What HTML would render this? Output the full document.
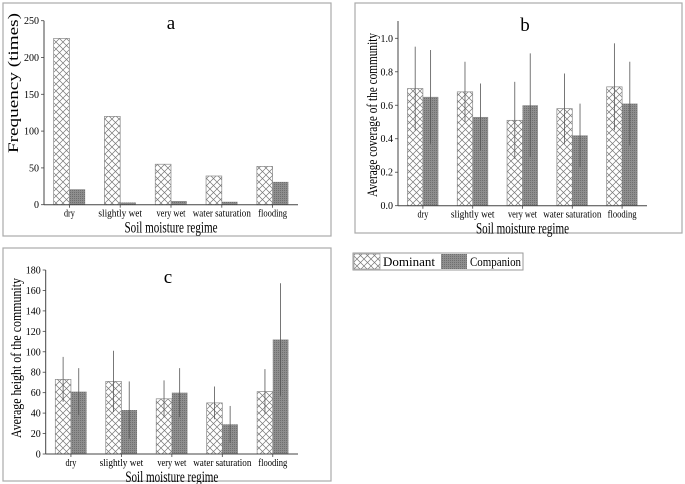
<!DOCTYPE html>
<html><head><meta charset="utf-8"><style>
body{margin:0;background:#fff}
svg{display:block}
text{font-family:"Liberation Serif","DejaVu Serif",serif}
</style></head><body>
<svg id="s" width="685" height="484" viewBox="0 0 685 484" xmlns="http://www.w3.org/2000/svg" font-family="Liberation Serif, serif">
<defs>
<pattern id="hatch" width="7" height="7" patternUnits="userSpaceOnUse">
<rect width="7" height="7" fill="#fff"/>
<path d="M0,0L7,7M7,0L0,7" stroke="#777" stroke-width="0.7"/>
</pattern>
<pattern id="dots" width="2" height="2" patternUnits="userSpaceOnUse">
<rect width="2" height="2" fill="#8e8e8e"/><rect width="1" height="1" fill="#6f6f6f"/>
</pattern>
</defs>
<g id="pa"></g>
<g id="pb"></g>
<g id="pc"></g>
<g>
<rect x="353" y="253" width="170" height="17" fill="#fff" stroke="#999"/>
<rect x="354" y="254" width="26" height="15" fill="url(#hatch)" stroke="#888" stroke-width="0.6"/>
<text x="383" y="266" font-size="13" textLength="52" lengthAdjust="spacingAndGlyphs">Dominant</text>
<rect x="441" y="254" width="26" height="15" fill="url(#dots)"/>
<text x="470" y="266" font-size="13" textLength="51" lengthAdjust="spacingAndGlyphs">Companion</text>
</g>
</svg>
<script>
const categories = ["dry","slightly wet","very wet","water saturation","flooding"];
const freqDominant = [226,120,55,39,52];
const freqCompanion = [21,3,5,4,31];
const freqTicks = [0,50,100,150,200,250];
const covDominant = [0.70,0.68,0.51,0.58,0.71];
const covDominantErr = [0.25,0.18,0.23,0.21,0.26];
const covCompanion = [0.65,0.53,0.60,0.42,0.61];
const covCompanionErr = [0.28,0.20,0.31,0.19,0.25];
const covTicks = ["0.0","0.2","0.4","0.6","0.8","1.0"];
const hDominant = [73,71,54,50,61];
const hDominantErr = [22,30,18,16,22];
const hCompanion = [61,43,60,29,112];
const hCompanionErr = [23,28,24,18,55];
const hTicks = [0,20,40,60,80,100,120,140,160,180];

const NS="http://www.w3.org/2000/svg";
function mk(p,tag,a,txt){const e=document.createElementNS(NS,tag);for(const k in a)e.setAttribute(k,a[k]);if(txt!==undefined)e.textContent=txt;p.appendChild(e);return e;}
function labLen(s,fs){return s.length*fs*0.33;}

function panel(g,cfg){
  const fr=mk(g,'rect',{x:cfg.frame[0],y:cfg.frame[1],width:cfg.frame[2],height:cfg.frame[3],fill:'none',stroke:'#aaa','stroke-width':1.2});
  
  
  const X0=cfg.x0,X1=cfg.x1,Y0=cfg.y0,Ytop=cfg.ytop;
  const y=v=>Y0-(v-cfg.min)/(cfg.max-cfg.min)*(Y0-Ytop);
  const bw=(X1-X0)/categories.length;
  const xc=i=>X0+bw*(i+0.5);
  const barW=bw*0.31;
  for(let i=0;i<categories.length;i++){
    const d=cfg.dom[i],c=cfg.comp[i];
    const r1=mk(g,'rect',{x:xc(i)-barW,y:y(d),width:barW,height:Y0-y(d),fill:'url(#hatch)',stroke:'#888','stroke-width':0.7});
    
    
    const r2=mk(g,'rect',{x:xc(i),y:y(c),width:barW,height:Y0-y(c),fill:'url(#dots)'});
    
    
    if(cfg.domErr){
      [[xc(i)-barW/2,d,cfg.domErr[i]],[xc(i)+barW/2,c,cfg.compErr[i]]].forEach(([ex,v,e],k)=>{
        const l=mk(g,'line',{x1:ex,x2:ex,y1:y(v+e),y2:y(v-e),stroke:'#555','stroke-width':0.8});
        
        
      });
    }
    const t=mk(g,'text',{x:xc(i),y:Y0+12,'font-size':11,'text-anchor':'middle',textLength:labLen(categories[i],11).toFixed(1),lengthAdjust:'spacingAndGlyphs'},categories[i]);
    
    
    mk(g,'line',{x1:xc(i),x2:xc(i),y1:Y0,y2:Y0+3,stroke:'#444','stroke-width':0.8});
  }
  mk(g,'line',{x1:X0,x2:X1,y1:Y0,y2:Y0,stroke:'#444','stroke-width':1});
  mk(g,'line',{x1:X0,x2:X0,y1:Y0,y2:cfg.axTop,stroke:'#444','stroke-width':1});
  cfg.ticks.forEach(tk=>{
    const v=parseFloat(tk);
    mk(g,'line',{x1:X0-3,x2:X0,y1:y(v),y2:y(v),stroke:'#444','stroke-width':0.8});
    const t=mk(g,'text',{x:X0-5,y:y(v)+3.5,'font-size':10,'text-anchor':'end'},tk);
    
    
  });
  const xt=mk(g,'text',{x:(X0+X1)/2,y:Y0+28,'font-size':16,'text-anchor':'middle',textLength:93,lengthAdjust:'spacingAndGlyphs'},'Soil moisture regime');
  
  
  const yt=mk(g,'text',{x:0,y:0,'font-size':15,'text-anchor':'middle',textLength:cfg.ytl,lengthAdjust:'spacingAndGlyphs',transform:`translate(${cfg.ytx},${cfg.ytc}) rotate(-90)`},cfg.ytitle);
  
  
  const pt=mk(g,'text',{x:cfg.lx,y:cfg.ly,'font-size':19,'text-anchor':'middle'},cfg.label);
  
  
}
panel(document.getElementById('pa'),{frame:[3,3,328,233],x0:44,x1:298,y0:204.7,ytop:20.7,axTop:20.7,min:0,max:250,dom:freqDominant,comp:freqCompanion,ticks:freqTicks.map(String),ytitle:'Frequency (times)',ytx:18,ytc:83,ytl:140,label:'a',lx:171,ly:29});
panel(document.getElementById('pb'),{frame:[355,3,327,230],x0:398,x1:647,y0:205.7,ytop:38.3,axTop:21,min:0,max:1,dom:covDominant,comp:covCompanion,domErr:covDominantErr,compErr:covCompanionErr,ticks:covTicks,ytitle:'Average coverage of the community',ytx:377,ytc:115,ytl:164,label:'b',lx:525,ly:31});
panel(document.getElementById('pc'),{frame:[3,248,328,233],x0:45.7,x1:298,y0:454,ytop:270,axTop:270,min:0,max:180,dom:hDominant,comp:hCompanion,domErr:hDominantErr,compErr:hCompanionErr,ticks:hTicks.map(String),ytitle:'Average height of the community',ytx:21,ytc:358,ytl:160,label:'c',lx:168,ly:283});
</script>
</body></html>
